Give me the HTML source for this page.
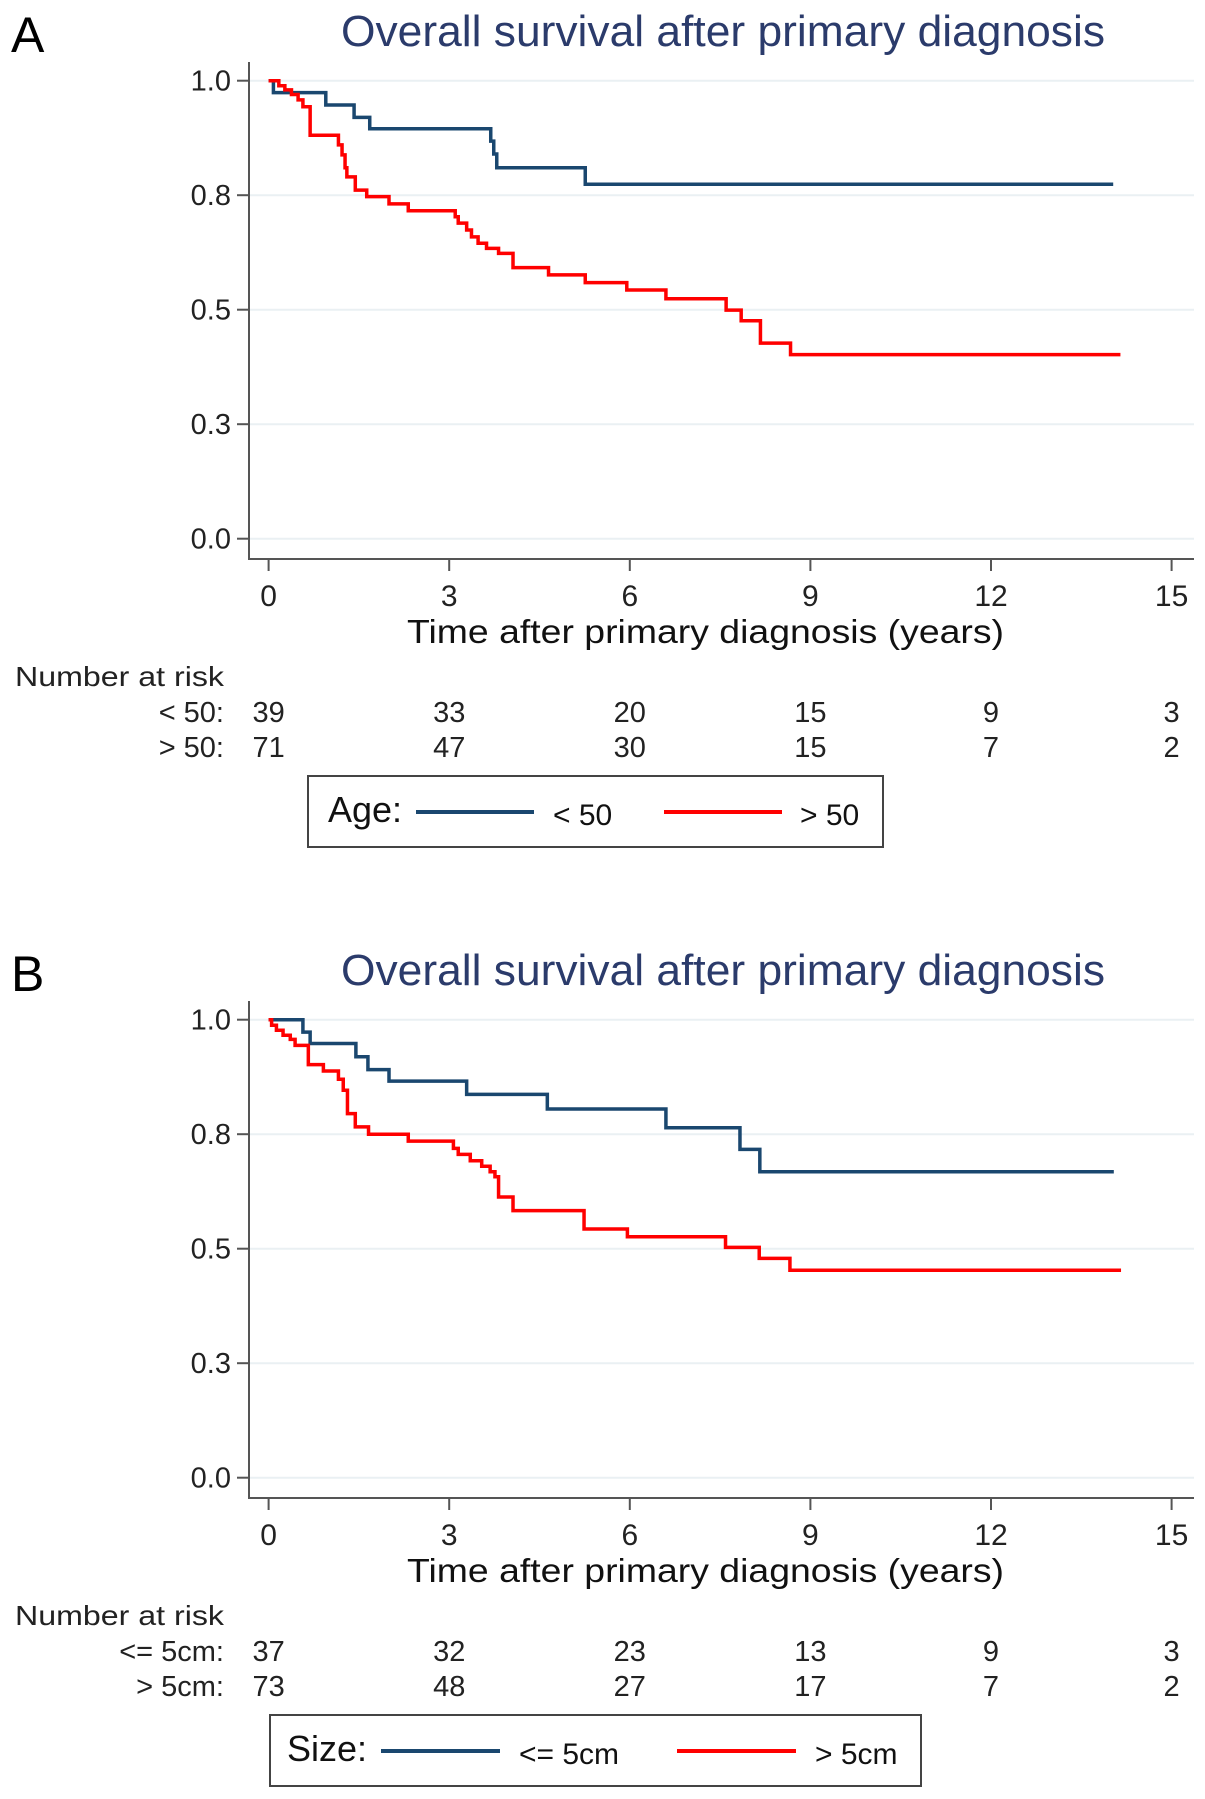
<!DOCTYPE html>
<html><head><meta charset="utf-8"><style>
html,body{margin:0;padding:0;background:#fff;}
svg{display:block;font-family:"Liberation Sans",Arial,sans-serif;}
</style></head><body>
<svg id="chart" width="1205" height="1799" viewBox="0 0 1205 1799" xmlns="http://www.w3.org/2000/svg"></svg>
<script>
// ---- data ----
const xTicks = [0, 3, 6, 9, 12, 15];
const yTicks = [0, 0.25, 0.5, 0.75, 1.0];
const yTickLabels = ["0.0", "0.3", "0.5", "0.8", "1.0"];

const timesA_lt50 = [0.08, 0.95, 1.42, 1.68, 3.69, 3.74, 3.79, 5.26];
const survA_lt50  = [0.974, 0.947, 0.92, 0.895, 0.868, 0.84, 0.81, 0.774];
const endA_lt50 = 14.03;
const timesA_gt50 = [0.17,0.27,0.38,0.49,0.57,0.69,1.16,1.22,1.27,1.30,1.44,1.63,2.0,2.32,3.10,3.15,3.29,3.37,3.48,3.62,3.82,4.06,4.65,5.26,5.95,6.6,7.6,7.85,8.17,8.67];
const survA_gt50  = [0.989,0.98,0.97,0.958,0.943,0.881,0.86,0.838,0.81,0.79,0.761,0.747,0.731,0.716,0.703,0.689,0.674,0.659,0.645,0.634,0.623,0.592,0.576,0.559,0.543,0.524,0.499,0.476,0.427,0.402];
const endA_gt50 = 14.15;
const riskA_lt50 = [39, 33, 20, 15, 9, 3];
const riskA_gt50 = [71, 47, 30, 15, 7, 2];

const timesB_le5 = [0.57,0.69,1.45,1.65,2.0,3.29,4.63,6.60,7.83,8.16];
const survB_le5  = [0.973,0.948,0.919,0.891,0.866,0.837,0.805,0.764,0.717,0.668];
const endB_le5 = 14.04;
const timesB_gt5 = [0.05,0.13,0.24,0.36,0.44,0.66,0.91,1.16,1.24,1.31,1.44,1.66,2.32,3.07,3.15,3.35,3.54,3.68,3.76,3.82,4.06,5.24,5.96,7.59,8.15,8.66];
const survB_gt5  = [0.988,0.977,0.966,0.957,0.944,0.902,0.888,0.87,0.846,0.795,0.766,0.75,0.735,0.719,0.706,0.692,0.68,0.668,0.657,0.613,0.583,0.543,0.526,0.503,0.479,0.453];
const endB_gt5 = 14.16;
const riskB_le5 = [37, 32, 23, 13, 9, 3];
const riskB_gt5 = [73, 48, 27, 17, 7, 2];

const NS = "http://www.w3.org/2000/svg";
const svg = document.getElementById("chart");
const BLUE = "#1a476f", RED = "#ff0000";

function mk(tag, attrs, parent, text) {
  const e = document.createElementNS(NS, tag);
  for (const k in attrs) e.setAttribute(k, attrs[k]);
  if (text !== undefined) e.textContent = text;
  (parent || svg).appendChild(e);
  return e;
}

function panel(off, letter, series, riskLabels, riskRows, legend) {
  const g = mk("g", {});
  
  
  const X = t => 268.6 + t * 60.2;
  const Y = s => off + 538.7 - s * 458;

  const lt = mk("text", {x: 11, y: off + 52, "font-size": 50, fill: "#000"}, g, letter);
  
  
  const tt = mk("text", {x: 341, y: off + 46, "font-size": 44, fill: "#2b3b6b", textLength: 764, lengthAdjust: "spacingAndGlyphs"}, g, "Overall survival after primary diagnosis");
  
  

  // gridlines + y ticks
  yTicks.forEach((v, i) => {
    const gl = mk("line", {x1: 250, x2: 1194, y1: Y(v), y2: Y(v), stroke: "#eaf0f3", "stroke-width": 2}, g);
    
    
    mk("line", {x1: 237, x2: 249, y1: Y(v), y2: Y(v), stroke: "#555", "stroke-width": 2}, g);
    const lab = mk("text", {x: 231, y: Y(v) + 10, "font-size": 29, "text-anchor": "end", fill: "#222"}, g, yTickLabels[i]);
    
    
  });
  // axes
  const ya = mk("line", {x1: 249, x2: 249, y1: off + 62, y2: off + 560, stroke: "#555", "stroke-width": 2}, g);
  
  
  const xa = mk("line", {x1: 248, x2: 1194, y1: off + 559, y2: off + 559, stroke: "#555", "stroke-width": 2}, g);
  
  
  xTicks.forEach(t => {
    mk("line", {x1: X(t), x2: X(t), y1: off + 559, y2: off + 571, stroke: "#555", "stroke-width": 2}, g);
    const lab = mk("text", {x: X(t), y: off + 606, "font-size": 30, "text-anchor": "middle", fill: "#222"}, g, String(t));
    
    
  });
  const xt = mk("text", {x: 407, y: off + 643, "font-size": 33, fill: "#111", textLength: 597, lengthAdjust: "spacingAndGlyphs"}, g, "Time after primary diagnosis (years)");
  
  

  // curves
  series.forEach(sr => {
    let d = "M" + X(0) + "," + Y(1);
    let prev = 1;
    sr.t.forEach((t, i) => {
      d += " L" + X(t) + "," + Y(prev) + " L" + X(t) + "," + Y(sr.s[i]);
      prev = sr.s[i];
    });
    d += " L" + X(sr.end) + "," + Y(prev);
    const p = mk("path", {d: d, fill: "none", stroke: sr.color, "stroke-width": 3.5, "stroke-linejoin": "miter"}, g);
    
    
  });

  // risk table
  const nr = mk("text", {x: 15, y: off + 686, "font-size": 28, fill: "#222", textLength: 209, lengthAdjust: "spacingAndGlyphs"}, g, "Number at risk");
  
  
  riskRows.forEach((row, r) => {
    const by = off + 722 + r * 35;
    const rl = mk("text", {x: 224, y: by, "font-size": 29, "text-anchor": "end", fill: "#222"}, g, riskLabels[r]);
    
    
    row.forEach((n, i) => {
      const c = mk("text", {x: X(xTicks[i]), y: by, "font-size": 29, "text-anchor": "middle", fill: "#222"}, g, String(n));
      
      
    });
  });

  // legend
  const lg = mk("g", {}, g);
  
  
  mk("rect", {x: legend.box[0], y: off + 776, width: legend.box[1] - legend.box[0], height: 71, fill: "#fff", stroke: "#444", "stroke-width": 2}, lg);
  const ttl = mk("text", {x: legend.titleX, y: off + 822, "font-size": 36, fill: "#111"}, lg, legend.title);
  
  
  legend.items.forEach(it => {
    const ln = mk("line", {x1: it.x1, x2: it.x2, y1: off + 812, y2: off + 812, stroke: it.color, "stroke-width": 4}, lg);
    
    
    const tx = mk("text", {x: it.tx, y: off + 825, "font-size": 30, fill: "#111"}, lg, it.label);
    
    
  });
}

panel(0, "A",
  [{t: timesA_lt50, s: survA_lt50, end: endA_lt50, color: BLUE, name: "curve-age-under-50"},
   {t: timesA_gt50, s: survA_gt50, end: endA_gt50, color: RED, name: "curve-age-over-50"}],
  ["< 50:", "> 50:"], [riskA_lt50, riskA_gt50],
  {box: [308, 883], title: "Age:", titleX: 328,
   items: [{x1: 416, x2: 534, tx: 553, label: "< 50", color: BLUE},
           {x1: 664, x2: 782, tx: 800, label: "> 50", color: RED}]});

panel(939, "B",
  [{t: timesB_le5, s: survB_le5, end: endB_le5, color: BLUE, name: "curve-size-le-5cm"},
   {t: timesB_gt5, s: survB_gt5, end: endB_gt5, color: RED, name: "curve-size-gt-5cm"}],
  ["<= 5cm:", "> 5cm:"], [riskB_le5, riskB_gt5],
  {box: [270, 921], title: "Size:", titleX: 287,
   items: [{x1: 381, x2: 500, tx: 519, label: "<= 5cm", color: BLUE},
           {x1: 677, x2: 796, tx: 815, label: "> 5cm", color: RED}]});
</script>
</body></html>
